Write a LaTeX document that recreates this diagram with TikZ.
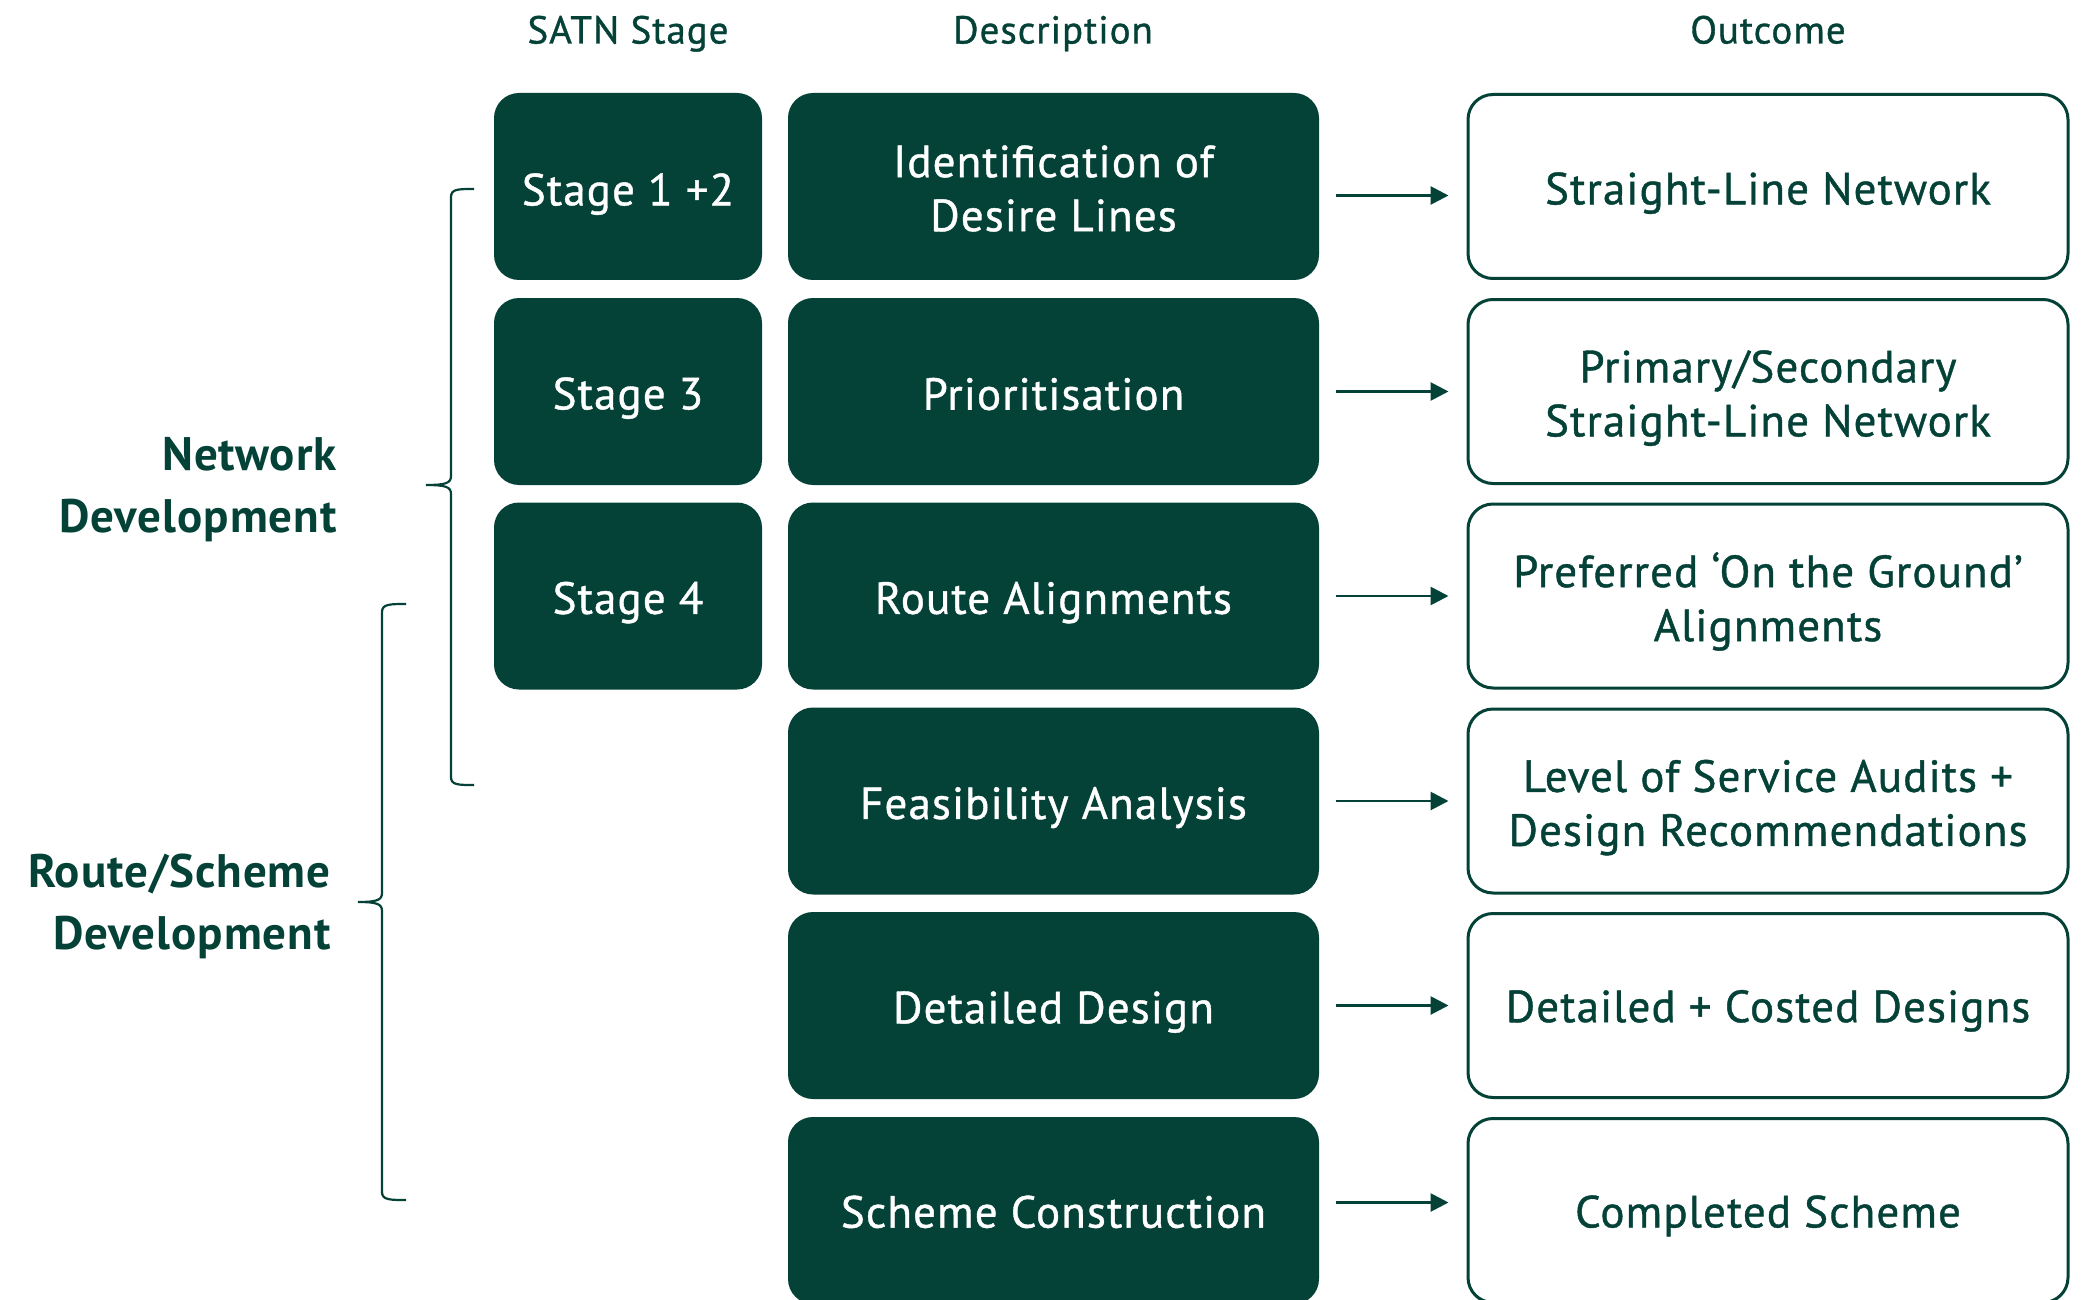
\documentclass[tikz,border=0pt]{standalone}
\usepackage{fontspec}
\setmainfont{PT Sans}
\newfontfamily\medfont[FakeBold=0.9,LetterSpace=2.5]{PT Sans}
\newfontfamily\boldfont[LetterSpace=2]{PT Sans Bold}
\usetikzlibrary{arrows.meta}
\definecolor{dg}{RGB}{4,66,56}
\begin{document}
\begin{tikzpicture}[x=0.5pt,y=-0.5pt,
  stagebox/.style={fill=dg, rounded corners=12.5pt, minimum width=134pt, minimum height=93.5pt, inner sep=0pt},
  descbox/.style={stagebox, minimum width=265.5pt},
  outbox/.style={draw=dg, line width=1.5pt, fill=white, rounded corners=12.5pt, minimum width=300pt, minimum height=92pt, inner sep=0pt},
  lbl/.style={font=\medfont\fontsize{22.5}{27}\selectfont, align=center, inner sep=0pt, yshift=-3.3pt},
  wlbl/.style={lbl, text=white},
  glbl/.style={lbl, text=dg},
  lift/.style={yshift=#1},
  hdr/.style={text=dg, font=\medfont\fontsize{19.5}{23}\selectfont, inner sep=0pt, anchor=base},
  grp/.style={text=dg, font=\boldfont\fontsize{23.5}{31}\selectfont, align=right, anchor=east, inner sep=0pt, yshift=-2pt},
  arr/.style={draw=dg, line width=1.4pt, -{Triangle[length=9pt,width=9pt]}},
  brace/.style={draw=dg, line width=1.1pt}
]
\useasboundingbox (0,0) rectangle (2082,1300);
% headers
\node[hdr] (h1) at (628,43.5) {SATN Stage};
\node[hdr] (h2) at (1053,43.5) {Description};
\node[hdr] (h3) at (1768,43.5) {Outcome};
% stage boxes
\node[stagebox] (s1) at (628,186.5) {};
\node[stagebox] (s2) at (628,391.5) {};
\node[stagebox] (s3) at (628,596) {};
\node[wlbl,lift=-0.5pt] (ts1) at (s1.center) {Stage 1 +2};
\node[wlbl] (ts2) at (s2.center) {Stage 3};
\node[wlbl] (ts3) at (s3.center) {Stage 4};
% description boxes
\node[descbox] (d1) at (1053.5,186.5) {};
\node[descbox] (d2) at (1053.5,391.5) {};
\node[descbox] (d3) at (1053.5,596) {};
\node[descbox] (d4) at (1053.5,801) {};
\node[descbox] (d5) at (1053.5,1005.5) {};
\node[descbox] (d6) at (1053.5,1210.5) {};
\node[wlbl,lift=2.3pt] (td1) at (d1.center) {Identification of\\Desire Lines};
\node[wlbl,lift=2pt] (td2) at (d2.center) {Prioritisation};
\node[wlbl] (td3) at (d3.center) {Route Alignments};
\node[wlbl] (td4) at (d4.center) {Feasibility Analysis};
\node[wlbl] (td5) at (d5.center) {Detailed Design};
\node[wlbl,lift=2.6pt] (td6) at (d6.center) {Scheme Construction};
% outcome boxes
\node[outbox] (o1) at (1768,186.5) {};
\node[outbox] (o2) at (1768,391.5) {};
\node[outbox] (o3) at (1768,596) {};
\node[outbox] (o4) at (1768,801) {};
\node[outbox] (o5) at (1768,1005.5) {};
\node[outbox] (o6) at (1768,1210.5) {};
\node[glbl] (to1) at (o1.center) {Straight-Line Network};
\node[glbl] (to2) at (o2.center) {Primary/Secondary\\Straight-Line Network};
\node[glbl,lift=0.6pt] (to3) at (o3.center) {Preferred ‘On the Ground’\\Alignments};
\node[glbl] (to4) at (o4.center) {Level of Service Audits +\\Design Recommendations};
\node[glbl,lift=0.6pt] (to5) at (o5.center) {Detailed + Costed Designs};
\node[glbl,lift=0.6pt] (to6) at (o6.center) {Completed Scheme};
% arrows
\draw[arr] ([xshift=8.5pt,yshift=-4.5pt]d1.east) -- ([xshift=-9pt,yshift=-4.5pt]o1.west);
\foreach \i in {2,3,4,5} {
  \draw[arr] ([xshift=8.5pt]d\i.east) -- ([xshift=-9pt]o\i.west);
}
\draw[arr] ([xshift=8.5pt,yshift=4pt]d6.east) -- ([xshift=-9pt,yshift=4pt]o6.west);
% group labels
\node[grp] (g1) at (337,486) {Network\\Development};
\node[grp] (g2) at (331,902) {Route/Scheme\\Development};
% braces
\draw[brace] (474,189) .. controls (458,189) and (451,189) .. (451,197) -- (451,476)
  .. controls (451,483) and (446,485) .. (426,485)
  .. controls (446,485) and (451,487) .. (451,494) -- (451,777)
  .. controls (451,785) and (458,785) .. (474,785);
\draw[brace] (406,604) .. controls (390,604) and (382,604) .. (382,612) -- (382,893)
  .. controls (382,900) and (377,902) .. (358,902)
  .. controls (377,902) and (382,904) .. (382,911) -- (382,1192)
  .. controls (382,1200) and (390,1200) .. (406,1200);
\end{tikzpicture}
\end{document}
